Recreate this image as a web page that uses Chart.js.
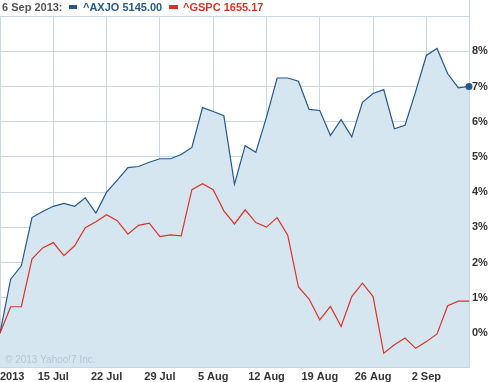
<!DOCTYPE html>
<html>
<head>
<meta charset="utf-8">
<script src="https://cdn.jsdelivr.net/npm/chart.js@4"></script>
<style>
  html, body { margin: 0; padding: 0; background: #fff; }
  #wrap { position: relative; width: 491px; height: 382px; }
</style>
</head>
<body>
<div id="wrap"><canvas id="perfChart" width="491" height="382"></canvas></div>
<script>
// trading day index (0 = Mon 8 Jul 2013 ... 44 = Fri 6 Sep 2013)
const tickPositions = [0, 5, 10, 15, 20, 25, 30, 35, 40];
const tickLabels = ["2013", "15 Jul", "22 Jul", "29 Jul", "5 Aug", "12 Aug", "19 Aug", "26 Aug", "2 Sep"];
const yTicks = [0, 1, 2, 3, 4, 5, 6, 7, 8, 9];

// % change since 8 Jul
const axjoValues = [
  0, 1.53, 1.91, 3.28, 3.45, 3.6, 3.68, 3.6, 3.84, 3.41,
  4.0, 4.34, 4.7, 4.73, 4.85, 4.95, 4.95, 5.07, 5.27, 6.4,
  6.29, 6.17, 4.23, 5.32, 5.13, 6.13, 7.24, 7.24, 7.15, 6.35,
  6.32, 5.61, 6.06, 5.57, 6.55, 6.8, 6.91, 5.8, 5.9, 6.86,
  7.88, 8.08, 7.36, 6.96, 7.0
];
const gspcValues = [
  0, 0.75, 0.75, 2.1, 2.42, 2.57, 2.2, 2.48, 2.99, 3.16,
  3.36, 3.19, 2.81, 3.06, 3.12, 2.74, 2.79, 2.76, 4.07, 4.24,
  4.07, 3.47, 3.1, 3.5, 3.14, 3.01, 3.28, 2.77, 1.31, 0.97,
  0.38, 0.76, 0.19, 1.04, 1.42, 1.04, -0.57, -0.33, -0.14, -0.43,
  -0.24, -0.02, 0.78, 0.91, 0.91
];

const headerDate = "6 Sep 2013:";
const axjoLabel = "^AXJO 5145.00";
const gspcLabel = "^GSPC 1655.17";

const BLUE = "#23588f";
const RED = "#dd3322";
const GRID = "#c7d7e3";
const FILL = "#d6e6f1";
const FONT = "'Liberation Sans', Arial, sans-serif";

const toXY = (arr) => arr.map((v, i) => ({ x: i, y: v }));

// header legend + copyright
const extras = {
  id: "extras",
  afterDraw(chart) {
    const c = chart.ctx;
    const area = chart.chartArea;
    c.save();
    // right border runs up through the header
    c.strokeStyle = GRID;
    c.lineWidth = 1;
    c.beginPath();
    c.moveTo(Math.round(area.right) + 0.5, 0);
    c.lineTo(Math.round(area.right) + 0.5, area.top);
    c.stroke();

    c.textBaseline = "middle";
    c.font = "bold 11px " + FONT;
    c.fillStyle = "#555";
    c.fillText(headerDate, 2, 7.5);
    c.fillStyle = BLUE;
    c.fillRect(69, 5, 8, 4);
    c.fillText(axjoLabel, 83, 7.5);
    c.fillStyle = RED;
    c.fillRect(169, 5, 9, 4);
    c.fillText(gspcLabel, 183, 7.5);

    c.font = "10px " + FONT;
    c.fillStyle = "#b4c6d3";
    c.fillText("\u00a9 2013 Yahoo!7 Inc.", area.left + 5, area.bottom - 7);
    c.restore();
  }
};

const ctx = document.getElementById("perfChart");
new Chart(ctx, {
  type: "line",
  data: {
    datasets: [
      {
        label: "^GSPC",
        data: toXY(gspcValues),
        borderColor: RED,
        borderWidth: 1.2,
        pointRadius: 0,
        tension: 0,
        fill: false,
        order: 0
      },
      {
        label: "^AXJO",
        data: toXY(axjoValues),
        borderColor: BLUE,
        backgroundColor: FILL,
        borderWidth: 1.2,
        pointRadius: (c) => c.dataIndex === axjoValues.length - 1 ? 3.5 : 0,
        pointBackgroundColor: BLUE,
        pointBorderWidth: 0,
        tension: 0,
        fill: "start",
        clip: false,
        order: 1
      }
    ]
  },
  options: {
    responsive: false,
    animation: false,
    events: [],
    layout: { autoPadding: false, padding: { top: 16, left: 0, right: 0, bottom: 0 } },
    plugins: {
      legend: { display: false },
      tooltip: { enabled: false }
    },
    scales: {
      x: {
        type: "linear",
        min: 0,
        max: axjoValues.length - 1,
        z: 1,
        afterBuildTicks: (scale) => {
          scale.ticks = tickPositions.concat([axjoValues.length - 1]).map(v => ({ value: v }));
        },
        afterFit: (scale) => {
          scale.height = 15;
          scale.paddingLeft = 0;
          scale.paddingRight = 0;
        },
        grid: { color: GRID, drawTicks: false, lineWidth: 1 },
        border: { display: true, color: GRID },
        ticks: {
          autoSkip: false,
          maxRotation: 0,
          padding: 3,
          align: "inner",
          color: "#333",
          font: { family: FONT, size: 11, weight: "bold" },
          callback: (val) => {
            const i = tickPositions.indexOf(val);
            return i >= 0 ? tickLabels[i] : "";
          }
        }
      },
      y: {
        position: "right",
        min: -0.96,
        max: 9,
        z: 1,
        afterBuildTicks: (scale) => {
          scale.ticks = yTicks.map(v => ({ value: v }));
        },
        afterFit: (scale) => { scale.width = 22; },
        grid: { color: GRID, drawTicks: false, lineWidth: 1 },
        border: { display: true, color: GRID },
        ticks: {
          padding: 3,
          color: "#333",
          font: { family: FONT, size: 11, weight: "bold" },
          callback: (val) => val === 9 ? "" : `${val}%`
        }
      }
    }
  },
  plugins: [extras]
});
</script>
</body>
</html>
